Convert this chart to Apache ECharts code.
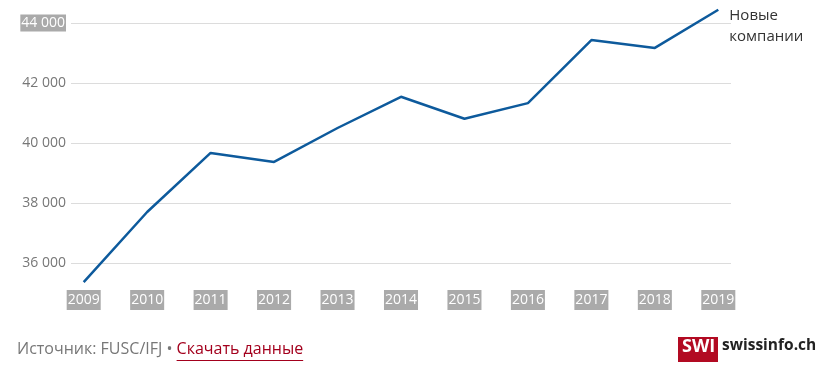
<!DOCTYPE html>
<html><head><meta charset="utf-8">
<script src="https://cdn.jsdelivr.net/npm/echarts@6/dist/echarts.min.js"></script>
<style>html,body{margin:0;padding:0;background:#fff}#c{width:831px;height:373px}</style>
</head><body><div id="c"></div>
<script>
const years = [2009,2010,2011,2012,2013,2014,2015,2016,2017,2018,2019];
const newCompanies = [35360,37700,39670,39370,40500,41540,40810,41330,43430,43170,44440];
const yTicks = [36000,38000,40000,42000,44000];
const seriesName = 'Новые\nкомпании';
const sourceText = 'Источник: FUSC/IFJ • ';
const linkText = 'Скачать данные';

const F = '"Open Sans", sans-serif';
const ctx = document.createElement('canvas').getContext('2d');
ctx.font = '16px ' + F;
const srcW = ctx.measureText(sourceText).width;
const linkW = ctx.measureText(linkText).width;

const fmt = v => String(v).replace(/(\d)(?=(\d{3})+$)/g, '$1 ');
const chart = echarts.init(document.getElementById('c'));
chart.setOption({
  animation: false,
  grid: {left: 71, right: 100, top: 23, bottom: 110},
  xAxis: {
    type: 'value', min: 2008.8, max: 2019.2,
    axisLine: {show: false}, axisTick: {show: false}, splitLine: {show: false},
    axisLabel: {
      customValues: years, margin: 27,
      formatter: v => String(v),
      color: '#fff', backgroundColor: '#aaa', fontFamily: F, fontSize: 14,
      padding: [2, 1, 1, 1], lineHeight: 17
    }
  },
  yAxis: {
    type: 'value', min: yTicks[0], max: yTicks[yTicks.length - 1], interval: 2000,
    axisLine: {show: false}, axisTick: {show: false},
    splitLine: {lineStyle: {color: '#dcdcdc', width: 1}},
    axisLabel: {
      margin: 5, fontFamily: F, fontSize: 14, color: '#777',
      formatter: v => v === 44000 ? '{h|' + fmt(v) + '}' : fmt(v),
      rich: {h: {color: '#fff', backgroundColor: '#aaa', fontFamily: F, fontSize: 14, padding: [2, 1, 1, 1]}}
    }
  },
  series: [{
    type: 'line', name: seriesName, clip: false,
    data: years.map((y, i) => [y, newCompanies[i]]),
    showSymbol: false, symbol: 'none',
    lineStyle: {color: '#0d5a9c', width: 2.5},
    endLabel: {
      show: true, formatter: seriesName, offset: [3, 16],
      fontFamily: F, fontSize: 15, color: '#333', lineHeight: 21
    }
  }],
  graphic: [
    {type: 'text', left: 17, top: 341, style: {
      text: '{a|' + sourceText + '}{b|' + linkText + '}',
      rich: {
        a: {fontFamily: F, fontSize: 16, fill: '#777'},
        b: {fontFamily: F, fontSize: 16, fill: '#a3001d'}
      }
    }},
    {type: 'rect', shape: {x: 17 + srcW, y: 360, width: linkW, height: 1}, style: {fill: '#a3001d'}},
    {type: 'rect', shape: {x: 678, y: 337, width: 40, height: 25}, style: {fill: '#b20a22'}},
    {type: 'text', left: 682, top: 338, style: {text: 'SWI', fontFamily: F, fontSize: 18, fontWeight: 'bold', fill: '#fff'}},
    {type: 'text', left: 722, top: 338, style: {text: 'swissinfo.ch', fontFamily: F, fontSize: 15.5, fontWeight: 'bold', fill: '#222'}}
  ]
});
</script></body></html>
